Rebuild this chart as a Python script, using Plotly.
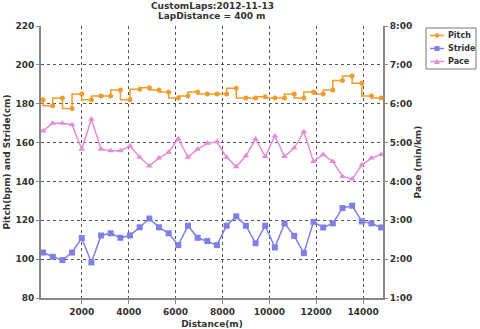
import plotly.graph_objects as go

distance = [350, 762, 1174, 1586, 1998, 2410, 2822, 3234, 3646, 4058, 4470, 4882,
            5294, 5706, 6118, 6530, 6942, 7354, 7766, 8178, 8590, 9002, 9414, 9826,
            10238, 10650, 11062, 11474, 11886, 12298, 12710, 13122, 13534, 13946, 14358, 14770]

pitch = [182, 179, 183, 177.5, 185, 182, 184, 184, 187, 182, 187.4, 188.2,
         187, 186, 183, 184, 186, 185, 185, 185, 188, 183, 183, 183.6,
         183, 183, 185, 183, 186, 185, 187, 192, 194.3, 190.5, 184, 183]

stride = [103.4, 101.2, 99.5, 103.4, 110.9, 98.3, 112.2, 113.3, 111.0, 112.2, 116.4, 120.9,
          116.4, 113.3, 107.2, 117.2, 111.0, 109.3, 107.2, 117.2, 122.0, 117.2, 108.2, 117.2,
          106.0, 118.4, 112.0, 103.1, 119.2, 116.3, 118.4, 126.3, 127.5, 119.4, 118.4, 116.3]

# pace in minutes per km
pace = [5.30, 5.50, 5.50, 5.46, 4.83, 5.60, 4.83, 4.79, 4.79, 4.91, 4.62, 4.40,
        4.60, 4.75, 5.10, 4.62, 4.83, 4.98, 5.02, 4.62, 4.38, 4.66, 5.09, 4.64,
        5.17, 4.64, 4.86, 5.28, 4.51, 4.69, 4.51, 4.13, 4.06, 4.42, 4.60, 4.69]

left_ticks = [80, 100, 120, 140, 160, 180, 200, 220]
right_ticks = [1, 2, 3, 4, 5, 6, 7, 8]
right_labels = ["1:00", "2:00", "3:00", "4:00", "5:00", "6:00", "7:00", "8:00"]
x_ticks = [2000, 4000, 6000, 8000, 10000, 12000, 14000]
x_labels = ["2000", "4000", "6000", "8000", "10000", "12000", "14000"]

title_lines = ["CustomLaps:2012-11-13", "LapDistance = 400 m"]
series_names = ["Pitch", "Stride", "Pace"]
series_colors = ["#F39C2B", "#7F7FE6", "#E68CD6"]

FONT = "DejaVu Sans"
TXT = "#333333"
BFONT = dict(family=FONT, size=9, color=TXT, weight="bold")

W, H = 480, 329
ML, MR, MT, MB = 41, 97, 26, 31
PW, PH = W - ML - MR, H - MT - MB


def pxx(x):
    return (x - ML) / PW


def pxy(y):
    return (H - MB - y) / PH


fig = go.Figure()
fig.add_trace(go.Scatter(x=distance, y=pitch, name="Pitch", mode="lines+markers",
                         line=dict(color=series_colors[0], width=1.5, shape="vh"),
                         marker=dict(symbol="circle", size=5, color=series_colors[0])))
fig.add_trace(go.Scatter(x=distance, y=stride, name="Stride", mode="lines+markers",
                         line=dict(color=series_colors[1], width=1.5),
                         marker=dict(symbol="square", size=6, color=series_colors[1])))
fig.add_trace(go.Scatter(x=distance, y=pace, name="Pace", mode="lines+markers", yaxis="y2",
                         line=dict(color=series_colors[2], width=1.5),
                         marker=dict(symbol="triangle-up", size=6, color=series_colors[2])))

for txt, ypos in zip(title_lines, [1.072, 1.035]):
    fig.add_annotation(text=txt, x=0.5, y=ypos, xref="paper", yref="paper",
                       xanchor="center", yanchor="middle", showarrow=False, font=BFONT)

# compact legend (box, short line samples with markers, labels)
shapes = [dict(type="rect", xref="paper", yref="paper",
               x0=pxx(426), x1=pxx(476), y0=pxy(28), y1=pxy(69),
               line=dict(color="#777777", width=1), fillcolor="white", layer="above")]
for i, (name, col) in enumerate(zip(series_names, series_colors)):
    yc = 35.5 + 13 * i
    shapes.append(dict(type="line", xref="paper", yref="paper",
                       x0=pxx(430), x1=pxx(444), y0=pxy(yc), y1=pxy(yc),
                       line=dict(color=col, width=1.5), layer="above"))
    mx = 437
    if i == 0:
        shapes.append(dict(type="circle", xref="paper", yref="paper",
                           x0=pxx(mx - 2.2), x1=pxx(mx + 2.2), y0=pxy(yc + 2.2), y1=pxy(yc - 2.2),
                           line=dict(color=col, width=0), fillcolor=col, layer="above"))
    elif i == 1:
        shapes.append(dict(type="rect", xref="paper", yref="paper",
                           x0=pxx(mx - 2.5), x1=pxx(mx + 2.5), y0=pxy(yc + 2.5), y1=pxy(yc - 2.5),
                           line=dict(color=col, width=0), fillcolor=col, layer="above"))
    else:
        path = "M %f,%f L %f,%f L %f,%f Z" % (pxx(mx - 3), pxy(yc + 2.5), pxx(mx + 3), pxy(yc + 2.5),
                                              pxx(mx), pxy(yc - 3))
        shapes.append(dict(type="path", xref="paper", yref="paper", path=path,
                           line=dict(color=col, width=0), fillcolor=col, layer="above"))
    fig.add_annotation(text=name, x=pxx(446), y=pxy(yc), xref="paper", yref="paper",
                       xanchor="left", yanchor="middle", showarrow=False,
                       font=dict(family=FONT, size=8, color=TXT, weight="bold"))

fig.update_layout(
    width=W, height=H,
    margin=dict(l=ML, r=MR, t=MT, b=MB, autoexpand=False),
    paper_bgcolor="white", plot_bgcolor="white",
    font=dict(family=FONT, size=9, color=TXT),
    shapes=shapes,
    showlegend=False,
    xaxis=dict(range=[260, 14850], tickvals=x_ticks, ticktext=x_labels, showgrid=True,
               gridcolor="#555555", griddash="dot", gridwidth=1,
               showline=True, linecolor="#888888", linewidth=2,
               ticks="outside", ticklen=4, tickcolor="#888888",
               tickfont=BFONT, automargin=False,
               title=dict(text="Distance(m)", font=BFONT, standoff=6),
               zeroline=False),
    yaxis=dict(range=[80, 220], tickvals=left_ticks, showgrid=True,
               gridcolor="#555555", griddash="dot", gridwidth=1,
               showline=True, linecolor="#888888", linewidth=2,
               ticks="outside", ticklen=3, tickcolor="#888888",
               tickfont=BFONT, automargin=False,
               title=dict(text="Pitch(bpm) and Stride(cm)", font=BFONT, standoff=3),
               zeroline=False),
    yaxis2=dict(range=[1, 8], tickvals=right_ticks, ticktext=right_labels,
                overlaying="y", side="right", showgrid=False,
                showline=True, linecolor="#888888", linewidth=2,
                ticks="outside", ticklen=3, tickcolor="#888888",
                tickfont=BFONT, automargin=False,
                title=dict(text="Pace (min/km)", font=BFONT, standoff=4),
                zeroline=False),
)

fig.write_html("out.html")
